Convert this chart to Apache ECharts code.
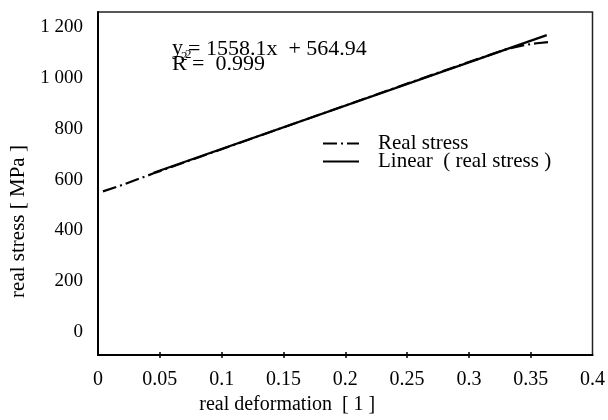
<!DOCTYPE html>
<html>
<head>
<meta charset="utf-8">
<script src="https://cdn.jsdelivr.net/npm/echarts@6/dist/echarts.min.js"></script>
<style>
    html, body { margin: 0; background: #fff; }
    #chart { width: 608px; height: 420px; }
</style>
</head>
<body>
<div id="chart"></div>
<script>
// values
const realX = [0.004, 0.02, 0.045, 0.1, 0.15, 0.2, 0.25, 0.3, 0.33, 0.345, 0.355, 0.3655];
const realY = [554, 580, 625, 720, 806, 892, 978, 1063, 1113, 1130, 1137, 1142];
const linearX = [0.045, 0.363];
const linearY = [627, 1169];
const yTickValues = [0, 200, 400, 600, 800, 1000, 1200];
const xTickValues = [0.05, 0.1, 0.15, 0.2, 0.25, 0.3, 0.35];

const font = 'Liberation Serif';

const pairs = (xs, ys) => xs.map((x, i) => [x, ys[i]]);

// "1 200" style thousands
const fmtStress = (v) => v >= 1000 ? Math.floor(v / 1000) + ' ' + String(v % 1000).padStart(3, '0') : String(v);

// plain text piece of the fit annotation
const note = (text, x, y, size) => ({
    type: 'text',
    x: x,
    y: y,
    style: {
        text: text,
        fontFamily: font,
        fontSize: size,
        fill: '#000',
        verticalAlign: 'middle'
    }
});

const chart = echarts.init(document.getElementById('chart'));

const option = {
    animation: false,
    backgroundColor: '#fff',
    grid: {
        left: 98,
        right: 9,
        top: 12,
        bottom: 59,
        show: true,
        borderColor: '#222',
        borderWidth: 1.5
    },
    legend: {
        orient: 'vertical',
        left: 317,
        top: 128,
        itemWidth: 36,
        itemHeight: 10,
        itemGap: -3,
        itemStyle: { opacity: 0 },
        textStyle: {
            fontFamily: font,
            fontSize: 21,
            color: '#000',
            padding: [0, 0, 0, 14]
        },
        data: ['Real stress', 'Linear  ( real stress )']
    },
    xAxis: [
        {
            type: 'value',
            min: 0,
            max: 0.4,
            interval: 0.05,
            position: 'bottom',
            name: 'real deformation  [ 1 ]',
            nameLocation: 'middle',
            nameGap: 40,
            nameTextStyle: {
                fontFamily: font,
                fontSize: 20,
                color: '#000',
                padding: [0, 116, 0, 0]
            },
            axisLine: { onZero: false, lineStyle: { color: '#000', width: 2 } },
            axisTick: {
                show: true,
                length: 3,
                customValues: xTickValues,
                lineStyle: { color: '#000', width: 1.5 }
            },
            axisLabel: {
                fontFamily: font,
                fontSize: 20,
                color: '#000',
                margin: 15
            },
            splitLine: { show: false }
        },
        {
            // inner half of the crossing ticks
            type: 'value',
            min: 0,
            max: 0.4,
            interval: 0.05,
            position: 'bottom',
            axisLine: { show: false, onZero: false },
            axisTick: {
                show: true,
                inside: true,
                length: 3,
                customValues: xTickValues,
                lineStyle: { color: '#000', width: 1.5 }
            },
            axisLabel: { show: false },
            splitLine: { show: false }
        }
    ],
    yAxis: {
        type: 'value',
        min: -90,
        max: 1260,
        name: 'real stress [ MPa ]',
        nameLocation: 'middle',
        nameGap: 56,
        nameTextStyle: {
            fontFamily: font,
            fontSize: 21,
            color: '#000',
            padding: [0, 76, 0, 0]
        },
        axisLine: { show: true, onZero: false, lineStyle: { color: '#000', width: 2 } },
        axisTick: { show: false },
        axisLabel: {
            customValues: yTickValues,
            formatter: fmtStress,
            fontFamily: font,
            fontSize: 19,
            color: '#000',
            margin: 15
        },
        splitLine: { show: false }
    },
    series: [
        {
            name: 'Real stress',
            type: 'line',
            data: pairs(realX, realY),
            showSymbol: false,
            symbol: 'none',
            z: 2,
            lineStyle: { color: '#000', width: 2.2, type: [14, 4, 2, 4] },
            itemStyle: { color: '#000' }
        },
        {
            name: 'Linear  ( real stress )',
            type: 'line',
            data: pairs(linearX, linearY),
            showSymbol: false,
            symbol: 'none',
            z: 3,
            lineStyle: { color: '#000', width: 2.2 },
            itemStyle: { color: '#000' }
        }
    ],
    graphic: [
        note('y', 172, 48, 22),
        note('2', 181, 57, 13),
        note('= 1558.1x  + 564.94', 188, 49, 22),
        note('R', 172, 64, 22),
        note('2', 185, 55, 13),
        note('=  0.999', 192, 64, 22)
    ]
};

chart.setOption(option);
</script>
</body>
</html>
